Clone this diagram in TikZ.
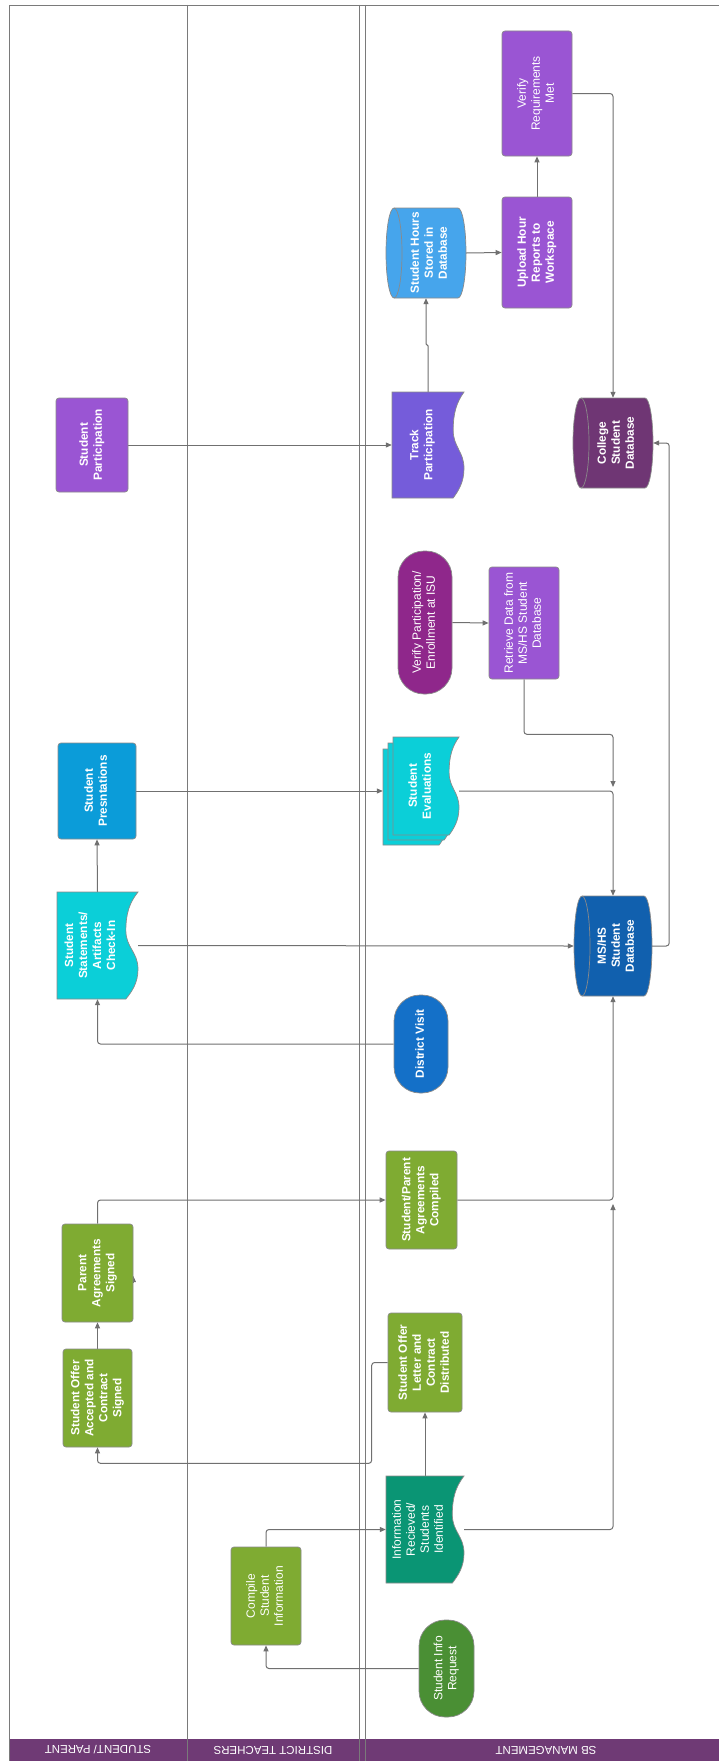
\documentclass[tikz,border=0pt]{standalone}
\usepackage{fontspec}
\setmainfont{Liberation Sans}
\usepackage{graphicx}
\usetikzlibrary{arrows.meta,calc}
\pgfdeclarelayer{bg}
\pgfsetlayers{bg,main}
\definecolor{ndborder}{HTML}{8A8A8A}
\definecolor{linegray}{HTML}{707070}
\definecolor{lanegray}{HTML}{7A7A7A}
\definecolor{headpurple}{HTML}{6F3A75}
\definecolor{oliveg}{HTML}{7FAB32}
\definecolor{reqg}{HTML}{4A8F34}
\definecolor{tealg}{HTML}{0A9574}
\definecolor{dvblue}{HTML}{1470C8}
\definecolor{cyandoc}{HTML}{0BCFD8}
\definecolor{presblue}{HTML}{0B9CD9}
\definecolor{msblue}{HTML}{1160AE}
\definecolor{vpurple}{HTML}{8F278B}
\definecolor{rpurple}{HTML}{9A55D3}
\definecolor{trackp}{HTML}{755CDA}
\definecolor{colp}{HTML}{6F3674}
\definecolor{hoursb}{HTML}{46A5EC}

\newcommand{\vt}[1]{\rotatebox{90}{\begin{tabular}{@{}c@{}}#1\end{tabular}}}

% document shape with wavy right side: L T R B colour
\newcommand{\docfill}[5]{%
 \pgfmathsetmacro{\zzL}{#1}\pgfmathsetmacro{\zzT}{#2}\pgfmathsetmacro{\zzR}{#3}\pgfmathsetmacro{\zzB}{#4}%
 \pgfmathsetmacro{\zzA}{0.15*(\zzR-\zzL)}\pgfmathsetmacro{\zzH}{\zzB-\zzT}%
 \filldraw[fill=#5, draw=ndborder, line width=0.7pt]
   (\zzL,\zzT) -- (\zzR,\zzT)
   .. controls ({\zzR-0.7*\zzA},{\zzT+0.1*\zzH}) and ({\zzR-\zzA},{\zzT+0.2*\zzH}) .. ({\zzR-\zzA},{\zzT+0.36*\zzH})
   .. controls ({\zzR-\zzA},{\zzT+0.52*\zzH}) and (\zzR,{\zzT+0.56*\zzH}) .. (\zzR,{\zzT+0.72*\zzH})
   .. controls (\zzR,{\zzT+0.85*\zzH}) and ({\zzR-0.5*\zzA},{\zzT+0.93*\zzH}) .. ({\zzR-\zzA},\zzB)
   -- (\zzL,\zzB) -- cycle;}
% name L T R B colour fontstyle text
\newcommand{\mkdoc}[8]{%
 \docfill{#2}{#3}{#4}{#5}{#6}%
 \node[inner sep=0pt, minimum width={\zzR-\zzL}, minimum height={\zzH}] (#1) at ({(\zzL+\zzR)/2},{(\zzT+\zzB)/2}) {};
 \node[#7, text=white, inner sep=0pt] at ({(\zzL+\zzR-\zzA)/2},{(\zzT+\zzB)/2}) {\vt{#8}};}
% cylinder lying on its side: name L T R B colour text
\newcommand{\mkcyl}[7]{%
 \pgfmathsetmacro{\zzY}{(#5-#3)/2}%
 \filldraw[fill=#6, draw=ndborder, line width=0.7pt] ({#2+8},#3) -- ({#4-8},#3)
   arc[start angle=90, end angle=-90, x radius=8pt, y radius=\zzY pt] -- ({#2+8},#5)
   arc[start angle=270, end angle=90, x radius=8pt, y radius=\zzY pt] -- cycle;
 \draw[ndborder, line width=0.7pt] ({#2+8},#3) arc[start angle=90, end angle=-90, x radius=8pt, y radius=\zzY pt];
 \node[inner sep=0pt, minimum width={#4-#2}, minimum height={#5-#3}] (#1) at ({(#2+#4)/2},{(#3+#5)/2}) {};
 \node[bd, text=white, inner sep=0pt] at ({(#2+#4)/2+4},{(#3+#5)/2}) {\vt{#7}};}

\tikzset{
  nd/.style={draw=ndborder, line width=0.7pt, inner sep=0pt, text=white},
  rbox/.style={nd, rectangle, rounded corners=3pt},
  stad/.style={nd, rectangle, rounded corners=26pt},
  rg/.style={font=\fontsize{12}{14}\selectfont},
  bd/.style={font=\bfseries\fontsize{11.8}{14}\selectfont},
  conn/.style={draw=linegray, line width=1pt, rounded corners=3pt, -{Triangle[length=6pt,width=5pt]}},
  lane/.style={draw=lanegray, line width=0.9pt},
  head/.style={text=white, font=\fontsize{11.5}{13}\selectfont, rotate=180, inner sep=0pt},
}

\begin{document}
\begin{tikzpicture}[x=1pt, y=-1pt]
\useasboundingbox (0,0) rectangle (719,1761);
\begin{pgfonlayer}{bg}
  \fill[white] (0,0) rectangle (719,1761);
  \fill[headpurple] (9,1739) rectangle (725,1761);
  \draw[lane] (9,1761) -- (9,5) -- (725,5);
  \draw[lane] (187,5) -- (187,1761);
  \draw[lane] (359,5) -- (359,1761);
  \draw[lane] (365,5) -- (365,1761);
\end{pgfonlayer}
\node[head] (h1) at (98,1750) {STUDENT/ PARENT};
\node[head] (h2) at (273,1750) {DISTRICT TEACHERS};
\node[head] (h3) at (546,1750) {SB MANAGEMENT};

\node[stad, fill=reqg, rg, minimum width=55, minimum height=97] (req) at (446.5,1668.5) {\vt{Student Info\\Request}};
\node[rbox, fill=oliveg, rg, minimum width=70, minimum height=98] (compile) at (266,1596) {\vt{Compile\\Student\\Information}};
\mkdoc{info}{386}{1476}{464}{1583}{tealg}{rg}{Information\\Recieved/\\Students\\Identified}
\node[rbox, fill=oliveg, bd, minimum width=74, minimum height=99] (offerLetter) at (425,1362.5) {\vt{Student Offer\\Letter and\\Contract\\Distributed}};
\node[rbox, fill=oliveg, bd, minimum width=71, minimum height=98] (compiled) at (421.5,1200) {\vt{Student/Parent\\Agreements\\Compiled}};
\node[rbox, fill=oliveg, bd, minimum width=69, minimum height=98] (offerAccepted) at (97.5,1398) {\vt{Student Offer\\Accepted and\\Contract\\Signed}};
\node[rbox, fill=oliveg, bd, minimum width=71, minimum height=98] (parentSigned) at (97.5,1273) {\vt{Parent\\Agreements\\Signed}};
\node[stad, fill=dvblue, bd, minimum width=54, minimum height=98] (districtVisit) at (421,1044) {\vt{District Visit}};
\mkdoc{statements}{57}{892}{138}{999}{cyandoc}{bd}{Student\\Statements/\\Artifacts\\Check-In}
\node[rbox, fill=presblue, bd, minimum width=78, minimum height=96] (presentations) at (97,791) {\vt{Student\\Presntations}};
% multi-document
\docfill{383}{749}{449}{845}{cyandoc}
\docfill{388}{743}{454}{840}{cyandoc}
\docfill{393}{737}{459}{835}{cyandoc}
\node[inner sep=0pt, minimum width=76, minimum height=108] (evals) at (421,791) {};
\node[bd, text=white, inner sep=0pt] (evalsText) at (421,786) {\vt{Student\\Evaluations}};
\mkcyl{msdb}{574}{896}{652}{996}{msblue}{MS/HS\\Student\\Database}
\node[stad, fill=vpurple, rg, minimum width=54, minimum height=143] (verifyPart) at (425,622.5) {\vt{Verify Participation/\\Enrollment at ISU}};
\node[rbox, fill=rpurple, rg, minimum width=70, minimum height=112] (retrieve) at (524,623) {\vt{Retrieve Data from\\MS/HS Student\\Database}};
\node[rbox, fill=rpurple, bd, minimum width=72, minimum height=94] (studentPart) at (92,445) {\vt{Student\\Participation}};
\mkdoc{track}{392}{392}{464}{498}{trackp}{bd}{Track\\Participation}
\mkcyl{collegeDB}{573}{398}{653}{488}{colp}{College\\Student\\Database}
\mkcyl{hours}{386}{208}{466}{298}{hoursb}{Student Hours\\Stored in\\Database}
\node[rbox, fill=rpurple, bd, minimum width=70, minimum height=111] (upload) at (537,252.5) {\vt{Upload Hour\\Reports to\\Workspace}};
\node[rbox, fill=rpurple, rg, minimum width=70, minimum height=125] (verifyReq) at (537,93.5) {\vt{Verify\\Requirements\\Met}};

\coordinate (jA) at ($(msdb.south |- compiled.east)+(0,4)$);
\coordinate (jB) at ($(msdb.north |- evals.east)+(0,-4)$);

\begin{pgfonlayer}{bg}
  \draw[conn] (req.west) -| (compile.south);
  \draw[conn] (compile.north) |- (info.west);
  \draw[conn] (info.east) -| (jA);
  \draw[conn] (info.north) -- (offerLetter.south);
  \draw[conn] (offerLetter.west) -- ++(-16,0) |- ($(offerAccepted.south)+(0,16)$) -- (offerAccepted.south);
  \draw[conn] (offerAccepted.north) -- (parentSigned.south);
  \draw[conn] ($(parentSigned.east)+(0,10)$) -- ($(parentSigned.east)+(0,3)$);
  \draw[conn] (parentSigned.north) |- (compiled.west);
  \draw[conn] (compiled.east) -| (msdb.south);
  \draw[conn] (districtVisit.west) -| (statements.south);
  \draw[conn] (statements.north) -- (presentations.south);
  \draw[conn] (statements.east) -- (msdb.west);
  \draw[conn] (presentations.east) -- (evals.west);
  \draw[conn] (evals.east) -| (msdb.north);
  \draw[conn] (retrieve.south) -- ++(0,55) -| (jB);
  \draw[conn] (msdb.east) -- ++(17,0) |- (collegeDB.east);
  \draw[conn] (verifyPart.east) -- (retrieve.west);
  \draw[conn] (studentPart.east) -- (track.west);
  \draw[conn, rounded corners=1pt] (track.north) -- ++(0,-47) -| (hours.south);
  \draw[conn] (hours.east) -- (upload.west);
  \draw[conn] (upload.north) -- (verifyReq.south);
  \draw[conn] (verifyReq.east) -| (collegeDB.north);
\end{pgfonlayer}
\end{tikzpicture}
\end{document}
